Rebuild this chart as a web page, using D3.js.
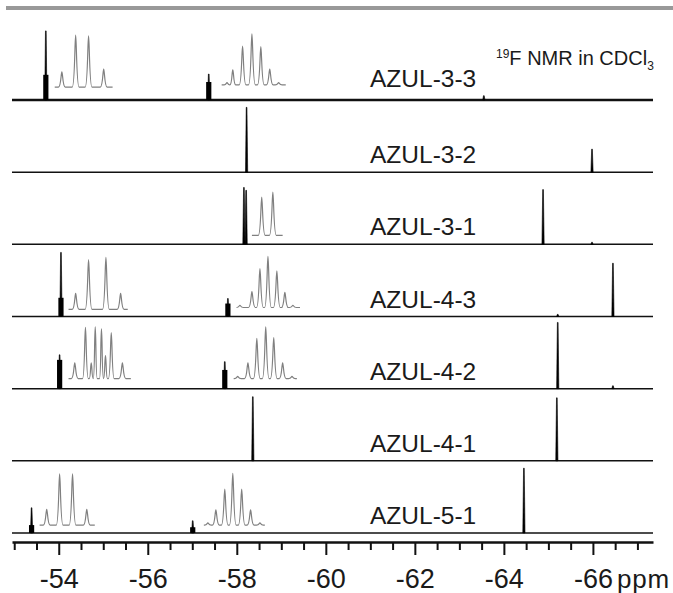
<!DOCTYPE html>
<html>
<head>
<meta charset="utf-8">
<script src="https://cdn.jsdelivr.net/npm/d3@7"></script>
<style>
  body { margin: 0; background: #fff; }
  svg { display: block; font-family: "Liberation Sans", Arial, sans-serif; }
</style>
</head>
<body>
<div id="chart"></div>
<script>
// trace names, top to bottom
const traceLabels = ["AZUL-3-3", "AZUL-3-2", "AZUL-3-1", "AZUL-4-3", "AZUL-4-2", "AZUL-4-1", "AZUL-5-1"];

const majorTicks = [-54, -56, -58, -60, -62, -64, -66];
const minorTicks = [-53, -53.5, -54.5, -55, -55.5, -56.5, -57, -57.5, -58.5, -59, -59.5,
  -60.5, -61, -61.5, -62.5, -63, -63.5, -64.5, -65, -65.5, -66.5, -67];

// peaks: [ppm, relative height, height of the broad multiplet foot]
const peaks33 = [[-53.71, 0.96, 0.35], [-57.37, 0.36, 0.25], [-63.55, 0.06, 0]];
const peaks32 = [[-58.22, 0.90, 0], [-65.98, 0.32, 0]];
const peaks31 = [[-58.16, 0.79, 0], [-58.21, 0.75, 0], [-64.88, 0.76, 0], [-65.98, 0.03, 0]];
const peaks43 = [[-54.05, 0.89, 0.26], [-57.80, 0.25, 0.18], [-65.21, 0.03, 0], [-66.45, 0.74, 0]];
const peaks42 = [[-54.02, 0.47, 0.40], [-57.73, 0.375, 0.26], [-65.21, 0.92, 0], [-66.45, 0.04, 0]];
const peaks41 = [[-58.36, 0.89, 0], [-65.19, 0.875, 0]];
const peaks51 = [[-53.39, 0.35, 0.11], [-57.01, 0.17, 0.08], [-64.45, 0.90, 0]];

// expanded multiplets (gray insets): span, lift above baseline, lines [ppm, height]
const inset33a = { span: [-53.91, -55.21], lift: 0.18,
  lines: [[-54.07, 0.21], [-54.38, 0.72], [-54.67, 0.71], [-55.01, 0.25]] };
const inset33b = { span: [-57.66, -59.10], lift: 0.21,
  lines: [[-57.78, 0.03], [-57.91, 0.21], [-58.13, 0.54], [-58.34, 0.71], [-58.54, 0.53], [-58.74, 0.22], [-58.94, 0.03]] };
const inset31 = { span: [-58.34, -59.03], lift: 0.125,
  lines: [[-58.56, 0.53], [-58.81, 0.60]] };
const inset43a = { span: [-54.22, -55.55], lift: 0.10,
  lines: [[-54.38, 0.22], [-54.67, 0.69], [-55.06, 0.72], [-55.39, 0.22]] };
const inset43b = { span: [-58.00, -59.42], lift: 0.125,
  lines: [[-58.07, 0.03], [-58.34, 0.22], [-58.52, 0.54], [-58.70, 0.71], [-58.90, 0.51], [-59.08, 0.21], [-59.26, 0.03]] };
const inset42a = { span: [-54.22, -55.62], lift: 0.14,
  lines: [[-54.36, 0.22], [-54.60, 0.71], [-54.73, 0.22], [-54.82, 0.72], [-54.96, 0.69], [-55.05, 0.32], [-55.18, 0.64], [-55.43, 0.22]] };
const inset42b = { span: [-57.93, -59.35], lift: 0.14,
  lines: [[-58.02, 0.03], [-58.25, 0.22], [-58.45, 0.56], [-58.65, 0.72], [-58.83, 0.57], [-59.03, 0.22], [-59.24, 0.03]] };
const inset51a = { span: [-53.57, -54.81], lift: 0.11,
  lines: [[-53.73, 0.22], [-54.02, 0.71], [-54.31, 0.71], [-54.63, 0.22]] };
const inset51b = { span: [-57.26, -58.63], lift: 0.11,
  lines: [[-57.35, 0.03], [-57.53, 0.21], [-57.73, 0.50], [-57.91, 0.72], [-58.11, 0.50], [-58.31, 0.21], [-58.52, 0.03]] };

const traces = [
  { label: traceLabels[0], peaks: peaks33, insets: [inset33a, inset33b], noisy: true },
  { label: traceLabels[1], peaks: peaks32, insets: [] },
  { label: traceLabels[2], peaks: peaks31, insets: [inset31] },
  { label: traceLabels[3], peaks: peaks43, insets: [inset43a, inset43b] },
  { label: traceLabels[4], peaks: peaks42, insets: [inset42a, inset42b] },
  { label: traceLabels[5], peaks: peaks41, insets: [] },
  { label: traceLabels[6], peaks: peaks51, insets: [inset51a, inset51b] }
];

const width = 673;
const height = 593;

const svg = d3.select("#chart").append("svg")
  .attr("width", width)
  .attr("height", height);

// gray rule across the top
svg.append("rect")
  .attr("x", 6).attr("y", 6)
  .attr("width", width - 6).attr("height", 4)
  .attr("fill", "#999");

const x = d3.scaleLinear().domain([-52.95, -67.35]).range([12, 653]);
const base = d3.scalePoint().domain(traceLabels).range([100, 533]);
const h = d3.scaleLinear().domain([0, 1]).range([0, 72]);

const g = svg.append("g");

traces.forEach((t, ti) => {
  const b = base(t.label);
  const tg = g.append("g");

  tg.append("line")
    .attr("x1", x.range()[0]).attr("x2", x.range()[1])
    .attr("y1", b).attr("y2", b)
    .attr("stroke", "#111")
    .attr("stroke-width", t.noisy ? 2.6 : 1.5);

  // broad feet of the multiplets
  tg.selectAll("rect.foot")
    .data(t.peaks.filter(p => p[2] > 0))
    .enter().append("rect")
    .attr("class", "foot")
    .attr("x", p => x(p[0]) - 2.6)
    .attr("width", 5.2)
    .attr("y", p => b - h(p[2]))
    .attr("height", p => h(p[2]))
    .attr("fill", "#000");

  // sharp lines
  tg.selectAll("path.peak")
    .data(t.peaks)
    .enter().append("path")
    .attr("class", "peak")
    .attr("d", p => {
      const px = x(p[0]), top = b - h(p[1]);
      const pa = d3.path();
      pa.moveTo(px - 1.1, b);
      pa.lineTo(px - 0.35, top);
      pa.lineTo(px + 0.35, top);
      pa.lineTo(px + 1.1, b);
      pa.closePath();
      return pa.toString();
    })
    .attr("fill", "#000")
    .attr("stroke", "#000")
    .attr("stroke-width", 0.6);

  // gray expansions
  t.insets.forEach(ins => {
    const yb = b - h(ins.lift);
    const xs = ins.lines.map(l => x(l[0]));
    const pa = d3.path();
    pa.moveTo(x(ins.span[0]), yb);
    ins.lines.forEach((l, i) => {
      const px = xs[i];
      const gapL = i > 0 ? (px - xs[i - 1]) / 2 : 4;
      const gapR = i < xs.length - 1 ? (xs[i + 1] - px) / 2 : 4;
      const hw = Math.min(3.4, gapL, gapR);
      const top = yb - h(l[1]);
      pa.lineTo(px - hw, yb);
      pa.bezierCurveTo(px - hw * 0.25, yb, px - 0.8, top, px, top);
      pa.bezierCurveTo(px + 0.8, top, px + hw * 0.25, yb, px + hw, yb);
    });
    pa.lineTo(x(ins.span[1]), yb);
    tg.append("path")
      .attr("d", pa.toString())
      .attr("fill", "none")
      .attr("stroke", "#808080")
      .attr("stroke-width", 1.2);
  });

  tg.append("text")
    .attr("x", 370)
    .attr("y", b - (ti === 0 ? 13 : 9))
    .attr("font-size", 24.5)
    .attr("fill", "#1a1a1a")
    .text(t.label);
});

// title
const title = svg.append("text")
  .attr("x", 496)
  .attr("y", 65)
  .attr("fill", "#1a1a1a")
  .attr("font-size", 20);
title.append("tspan").attr("font-size", 12).attr("dy", -7).text("19");
title.append("tspan").attr("dy", 7).text("F NMR in CDCl");
title.append("tspan").attr("font-size", 12).attr("dy", 5).text("3");

// axis
const axisY = 542;
const axisG = svg.append("g")
  .attr("transform", `translate(0,${axisY})`);

axisG.append("g")
  .call(d3.axisBottom(x).tickValues(minorTicks).tickSize(8).tickSizeOuter(0).tickFormat(""))
  .call(a => a.select(".domain").remove())
  .call(a => a.selectAll(".tick line").attr("stroke", "#111").attr("stroke-width", 2));

axisG.append("g")
  .call(d3.axisBottom(x).tickValues(majorTicks).tickSize(13).tickSizeOuter(0).tickFormat(d3.format("d")))
  .call(a => a.select(".domain").attr("stroke", "#111").attr("stroke-width", 2.6))
  .call(a => a.selectAll(".tick line").attr("stroke", "#111").attr("stroke-width", 2))
  .call(a => a.selectAll(".tick text")
    .attr("y", 46).attr("dy", 0)
    .attr("font-size", 27)
    .attr("font-family", "'Liberation Sans', Arial, sans-serif")
    .attr("fill", "#1a1a1a")
    .text(d => "-" + Math.abs(d)));

svg.append("text")
  .attr("x", 617)
  .attr("y", axisY + 46)
  .attr("font-size", 26)
  .attr("letter-spacing", 0.8)
  .attr("fill", "#1a1a1a")
  .text("ppm");
</script>
</body>
</html>
